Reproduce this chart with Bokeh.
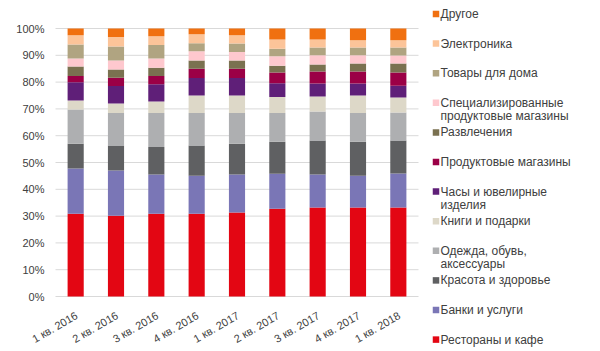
import math
from bokeh.plotting import figure
from bokeh.models import Range1d, ColumnDataSource
from bokeh.core.properties import value
from bokeh.embed import file_html
from bokeh.resources import INLINE

quarters = ["1 кв. 2016", "2 кв. 2016", "3 кв. 2016", "4 кв. 2016", "1 кв. 2017",
            "2 кв. 2017", "3 кв. 2017", "4 кв. 2017", "1 кв. 2018"]

# series, bottom to top (percent shares)
restaurants = [30.9, 30.1, 30.9, 30.9, 31.3, 32.7, 33.2, 33.2, 33.2]
banks       = [16.9, 16.9, 14.6, 14.2, 14.2, 13.1, 12.3, 11.9, 12.7]
beauty      = [9.2, 9.3, 10.3, 11.2, 11.5, 11.9, 12.7, 12.6, 12.3]
clothes     = [12.8, 12.2, 12.7, 12.2, 11.5, 10.8, 10.8, 10.8, 10.5]
books       = [3.3, 3.5, 4.3, 6.5, 6.5, 5.9, 5.6, 6.5, 5.6]
jewelry     = [6.8, 6.5, 6.4, 6.5, 6.5, 5.2, 4.9, 4.5, 4.3]
grocery     = [2.4, 3.1, 3.1, 3.5, 3.5, 4.0, 4.5, 4.5, 5.0]
entertain   = [3.5, 3.1, 3.1, 3.1, 3.1, 2.5, 2.6, 2.9, 3.3]
special     = [3.0, 3.4, 3.4, 3.4, 3.1, 3.5, 3.4, 3.1, 3.0]
home        = [5.2, 5.2, 5.0, 3.0, 3.2, 2.8, 2.9, 2.9, 3.0]
electronics = [3.5, 3.5, 3.3, 3.4, 3.1, 3.5, 3.0, 2.7, 2.7]
other       = [2.5, 3.2, 2.9, 2.1, 2.5, 4.1, 4.1, 4.4, 4.4]

series_names = ["Рестораны и кафе", "Банки и услуги", "Красота и здоровье",
                "Одежда, обувь,\nаксессуары", "Книги и подарки", "Часы и ювелирные\nизделия",
                "Продуктовые магазины", "Развлечения",
                "Специализированные\nпродуктовые магазины", "Товары для дома",
                "Электроника", "Другое"]
series_values = [restaurants, banks, beauty, clothes, books, jewelry, grocery,
                 entertain, special, home, electronics, other]
colors = ["#e30613", "#7a76b6", "#5f6062", "#aeafb1", "#ddd8c8", "#5f1f78",
          "#9b0046", "#7a7150", "#fec8ce", "#b0a481", "#fcc499", "#f07010"]
y_ticks = [0, 10, 20, 30, 40, 50, 60, 70, 80, 90, 100]

FONT = "Liberation Sans"
TXT = "#404040"
GRID = "#d9d9d9"

# layout in pixels (the frame covers the whole canvas)
W, H = 600, 351
PL, PR, PT, PB = 55, 418, 28, 296     # plot area edges
n = len(quarters)
ux = (PR - PL) / n                     # px per category
uy = (PB - PT) / 100.0                 # px per percent
x_lo = -0.5 - PL / ux
x_hi = x_lo + W / ux
y_hi = PT / uy + 100.0
y_lo = y_hi - H / uy

def px_x(px):
    return x_lo + px / ux

def px_y(py):
    return y_hi - py / uy

xi = list(range(n))
keys = ["s%d" % i for i in range(len(series_values))]
data = {"x": xi, "q": quarters}
for k, v in zip(keys, series_values):
    data[k] = v
src = ColumnDataSource(data)

p = figure(width=W, height=H, x_range=Range1d(x_lo, x_hi), y_range=Range1d(y_lo, y_hi),
           output_backend="svg", toolbar_location=None,
           x_axis_location=None, y_axis_location=None,
           min_border_left=0, min_border_right=0, min_border_top=0, min_border_bottom=0)
p.outline_line_color = None
p.grid.visible = False

# horizontal gridlines (and the base line at 0)
p.segment(x0=[-0.5] * len(y_ticks), x1=[n - 0.5] * len(y_ticks), y0=y_ticks, y1=y_ticks,
          line_color=GRID, line_width=1)

p.vbar_stack(keys, x="x", width=0.4, source=src, color=colors, line_color=None)

# y tick labels
p.text(x=[-0.5] * len(y_ticks), y=y_ticks, text=["%d%%" % t for t in y_ticks],
       x_offset=-11, text_font=value(FONT), text_font_size="11px", text_color=TXT,
       text_align="right", text_baseline="middle")

# x tick labels (rotated)
p.text(x="x", y=0, text="q", source=src, angle=math.pi / 6, x_offset=1, y_offset=18,
       text_font=value(FONT), text_font_size="11px", text_color=TXT,
       text_align="right", text_baseline="alphabetic")

# legend (top = last series)
order = list(range(len(series_names)))[::-1]
sq_x, sq_y, sq_c = [], [], []
tx, ty, tt = [], [], []
for slot, i in enumerate(order):
    y0 = 13.5 + slot * 29.6
    sq_x.append(px_x(435.5))
    sq_y.append(px_y(y0))
    sq_c.append(colors[i])
    for j, line in enumerate(series_names[i].split("\n")):
        tx.append(px_x(440))
        ty.append(px_y(y0 + j * 13.5))
        tt.append(line)
p.scatter(x=sq_x, y=sq_y, marker="square", size=6.5, fill_color=sq_c, line_color=None)
p.text(x=tx, y=ty, text=tt, text_font=value(FONT), text_font_size="12px",
       text_color=TXT, text_baseline="middle", text_align="left")

open("out.html", "w").write(file_html(p, INLINE))
